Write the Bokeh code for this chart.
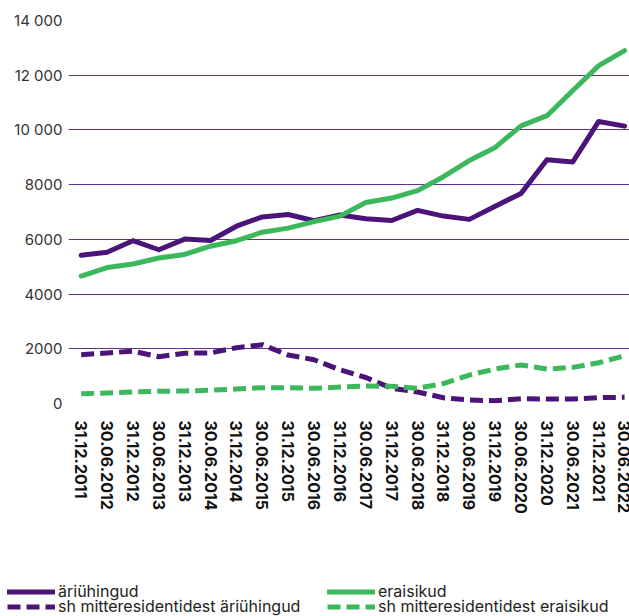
from bokeh.plotting import figure
from bokeh.layouts import column, row
from bokeh.models import Range1d, FixedTicker, Legend, LegendItem
from bokeh.embed import file_html
from bokeh.resources import INLINE

dates = ["31.12.2011", "30.06.2012", "31.12.2012", "30.06.2013", "31.12.2013",
         "30.06.2014", "31.12.2014", "30.06.2015", "31.12.2015", "30.06.2016",
         "31.12.2016", "30.06.2017", "31.12.2017", "30.06.2018", "31.12.2018",
         "30.06.2019", "31.12.2019", "30.06.2020", "31.12.2020", "30.06.2021",
         "31.12.2021", "30.06.2022"]

ariuhingud = [5420, 5530, 5950, 5620, 6010, 5960, 6480, 6820, 6910, 6680, 6890,
              6750, 6690, 7060, 6850, 6730, 7210, 7680, 8910, 8830, 10310, 10140]
eraisikud = [4660, 4970, 5100, 5320, 5450, 5750, 5950, 6260, 6410, 6650, 6850,
             7350, 7510, 7780, 8290, 8880, 9360, 10150, 10520, 11440, 12350, 12900]
mr_ariuhingud = [1780, 1850, 1910, 1710, 1840, 1850, 2040, 2150, 1770, 1600, 1230,
                 950, 560, 420, 210, 125, 100, 175, 165, 165, 215, 225]
mr_eraisikud = [355, 385, 425, 445, 460, 485, 530, 580, 580, 555, 600,
                640, 630, 560, 730, 1040, 1260, 1410, 1260, 1320, 1490, 1740]

y_ticks = [0, 2000, 4000, 6000, 8000, 10000, 12000, 14000]
y_tick_labels = ["0", "2000", "4000", "6000", "8000", "10 000", "12 000", "14 000"]

labels = ["äriühingud", "eraisikud",
          "sh mitteresidentidest äriühingud", "sh mitteresidentidest eraisikud"]

PURPLE = "#4b1479"
GREEN = "#3cb85c"
FONT = "Inter"

x = list(range(len(dates)))

p = figure(width=629, height=520, output_backend="svg", toolbar_location=None,
           x_range=Range1d(-0.49, 21.19), y_range=Range1d(0, 14000),
           min_border_left=68, min_border_right=0, min_border_top=20,
           min_border_bottom=117, outline_line_color=None)

p.xgrid.grid_line_color = None
p.ygrid.grid_line_color = "#5e3290"
p.ygrid.grid_line_width = 1
p.ygrid.ticker = FixedTicker(ticks=y_ticks)

p.yaxis.ticker = FixedTicker(ticks=y_ticks)
p.yaxis.major_label_overrides = {t: l for t, l in zip(y_ticks, y_tick_labels)}
p.yaxis.axis_line_color = None
p.yaxis.major_tick_line_color = None
p.yaxis.minor_tick_line_color = None
p.yaxis.major_tick_out = 0
p.yaxis.major_label_standoff = 6
p.yaxis.major_label_text_font = FONT
p.yaxis.major_label_text_font_size = "15px"
p.yaxis.major_label_text_color = "#333333"

p.xaxis.ticker = FixedTicker(ticks=x)
p.xaxis.major_label_overrides = {i: d for i, d in zip(x, dates)}
p.xaxis.major_label_orientation = "vertical"
p.xaxis.axis_line_color = None
p.xaxis.major_tick_line_color = None
p.xaxis.minor_tick_line_color = None
p.xaxis.major_tick_out = 0
p.xaxis.major_label_standoff = 17
p.xaxis.major_label_text_font = FONT
p.xaxis.major_label_text_font_style = "bold"
p.xaxis.major_label_text_font_size = "16px"
p.xaxis.major_label_text_color = "#111111"

styles = [dict(line_color=PURPLE, line_cap="round"),
          dict(line_color=GREEN, line_cap="round"),
          dict(line_color=PURPLE, line_dash="13 6"),
          dict(line_color=GREEN, line_dash="13 6")]

for ys, st in zip([ariuhingud, eraisikud, mr_ariuhingud, mr_eraisikud], styles):
    p.line(x, ys, line_width=5, line_join="round", **st)

# legend area below the chart
lf = figure(width=629, height=96, output_backend="svg", toolbar_location=None,
            x_range=Range1d(0, 629), y_range=Range1d(0, 96),
            min_border=0, min_border_left=0, min_border_right=0,
            min_border_top=0, min_border_bottom=0,
            x_axis_location=None, y_axis_location=None, outline_line_color=None)
lf.grid.grid_line_color = None

positions = [(7, 15), (327, 15), (7, 0), (327, 0)]
for lab, st, loc in zip(labels, styles, positions):
    r = lf.line([-50], [-50], line_width=5, line_join="round", **st)
    leg = Legend(items=[LegendItem(label=lab, renderers=[r])], location=loc,
                 glyph_width=48, glyph_height=15, label_height=15,
                 label_standoff=3, padding=0, margin=0, spacing=0,
                 border_line_color=None, background_fill_alpha=0,
                 label_text_font=FONT, label_text_font_size="16px",
                 label_text_color="#222222")
    lf.add_layout(leg)

layout = column(p, row(lf), spacing=0)
open("out.html", "w").write(file_html(layout, INLINE))
